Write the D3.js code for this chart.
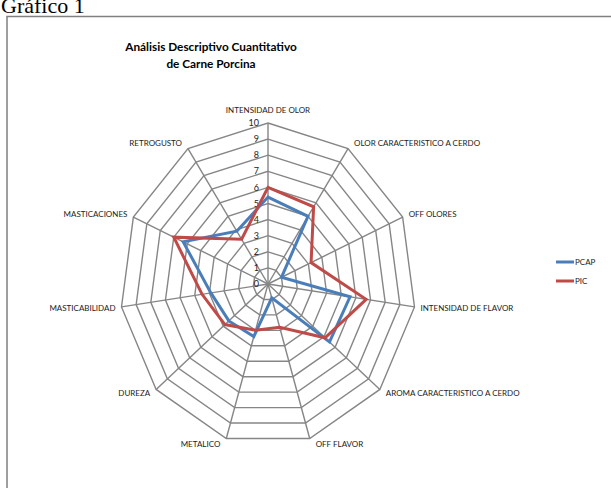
<!DOCTYPE html>
<html>
<head>
<meta charset="utf-8">
<script src="https://cdn.jsdelivr.net/npm/d3@7"></script>
<style>
  html, body { margin: 0; padding: 0; background: #fff; }
  svg { display: block; }
</style>
</head>
<body>
<svg id="chart" width="611" height="488"></svg>
<script>
// Sensory attributes (radar axes, clockwise from the top)
const attributes = [
  "INTENSIDAD DE OLOR",
  "OLOR CARACTERISTICO  A CERDO",
  "OFF OLORES",
  "INTENSIDAD  DE FLAVOR",
  "AROMA CARACTERISTICO  A CERDO",
  "OFF FLAVOR",
  "METALICO",
  "DUREZA",
  "MASTICABILIDAD",
  "MASTICACIONES",
  "RETROGUSTO"
];
// Panel scores per genetic line
const pcapValues = [5.4, 5.0, 1.0, 5.6, 5.5, 0.9, 3.4, 3.5, 3.9, 6.3, 3.9];
const picValues  = [6.0, 5.7, 3.2, 6.7, 5.1, 2.8, 3.0, 3.85, 4.5, 7.0, 3.3];
const seriesNames = ["PCAP", "PIC"];
const seriesColors = ["#4a7ebb", "#be4b48"];
const tickValues = [0, 1, 2, 3, 4, 5, 6, 7, 8, 9, 10];

const svg = d3.select("#chart");
const font = "Lato, 'Open Sans', sans-serif";

// Caption above the chart frame
svg.append("text")
  .attr("x", 1).attr("y", 13)
  .attr("font-family", "'Liberation Serif', 'Times New Roman', serif")
  .attr("font-size", 22)
  .attr("fill", "#000")
  .text("Gráfico 1");

// Chart frame
svg.append("rect")
  .attr("x", 7).attr("y", 16.5)
  .attr("width", 640).attr("height", 500)
  .attr("fill", "#fff")
  .attr("stroke", "#808080")
  .attr("stroke-width", 1.5);

// Title
const title = svg.append("text")
  .attr("x", 211).attr("y", 51)
  .attr("text-anchor", "middle")
  .attr("font-family", font)
  .attr("font-weight", "bold")
  .attr("font-size", 11.8)
  .attr("fill", "#000");
title.append("tspan").attr("x", 211).attr("dy", 0).text("Análisis Descriptivo Cuantitativo");
title.append("tspan").attr("x", 211).attr("dy", 17).text("de Carne Porcina");

// Radar geometry (plot area is slightly narrower than tall)
const cx = 268, cy = 284, rx = 148, ry = 161;
const r = d3.scaleLinear().domain([0, 10]).range([0, 1]);
const angle = d3.scaleLinear().domain([0, attributes.length]).range([0, 2 * Math.PI]);
const pt = (i, v) => {
  const a = angle(i);
  return [cx + rx * r(v) * Math.sin(a), cy - ry * r(v) * Math.cos(a)];
};

const grid = svg.append("g").attr("fill", "none").attr("stroke", "#868686").attr("stroke-width", 1.4);
const ring = d3.line().curve(d3.curveLinearClosed);

// Concentric rings
tickValues.filter(t => t > 0).forEach(t => {
  grid.append("path").attr("d", ring(attributes.map((_, i) => pt(i, t))));
});
// Spokes
attributes.forEach((_, i) => {
  const [x, y] = pt(i, 10);
  grid.append("line").attr("x1", cx).attr("y1", cy).attr("x2", x).attr("y2", y);
});

// Scale numbers along the top spoke
svg.append("g").selectAll("text").data(tickValues).join("text")
  .attr("x", cx - 9)
  .attr("y", d => pt(0, d)[1])
  .attr("dy", "0.35em")
  .attr("text-anchor", "end")
  .attr("font-family", font)
  .attr("font-size", 9)
  .attr("fill", "#222")
  .text(d => d);

// Axis labels
svg.append("g").selectAll("text").data(attributes).join("text")
  .each(function (d, i) {
    const a = angle(i);
    const [x, y] = pt(i, 10);
    const s = Math.sin(a);
    const anchor = s > 0.05 ? "start" : (s < -0.05 ? "end" : "middle");
    const dx = s > 0.05 ? 6 : (s < -0.05 ? -6 : 0);
    const dy = i === 0 ? -13 : -Math.cos(a) * 6;
    d3.select(this)
      .attr("x", x + dx)
      .attr("y", y + dy)
      .attr("dy", "0.35em")
      .attr("text-anchor", anchor);
  })
  .attr("font-family", font)
  .attr("font-size", 8)
  .attr("fill", "#222")
  .text(d => d);

// Series polygons
const series = [pcapValues, picValues];
series.forEach((vals, k) => {
  svg.append("path")
    .attr("d", ring(vals.map((v, i) => pt(i, v))))
    .attr("fill", "none")
    .attr("stroke", seriesColors[k])
    .attr("stroke-width", 3)
    .attr("stroke-linejoin", "miter");
});

// Legend
const legend = svg.append("g").selectAll("g").data(seriesNames).join("g")
  .attr("transform", (d, k) => `translate(556, ${262 + k * 19})`);
legend.append("line")
  .attr("x1", 0).attr("x2", 18).attr("y1", 0).attr("y2", 0)
  .attr("stroke", (d, k) => seriesColors[k])
  .attr("stroke-width", 3);
legend.append("text")
  .attr("x", 19).attr("y", 0).attr("dy", "0.35em")
  .attr("font-family", font)
  .attr("font-size", 8)
  .attr("fill", "#222")
  .text(d => d);
</script>
</body>
</html>
